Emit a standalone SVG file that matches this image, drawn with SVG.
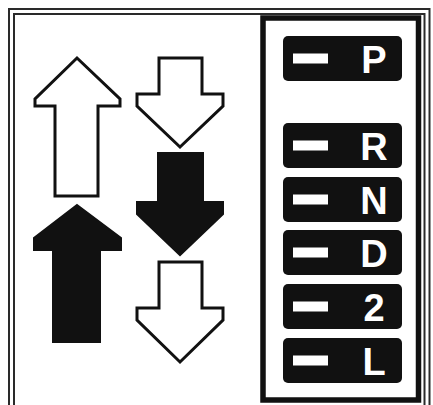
<svg xmlns="http://www.w3.org/2000/svg" width="433" height="405" viewBox="0 0 433 405">
<style>
.frame{fill:none;stroke:#2a2a2a;stroke-width:2}
.box{fill:none;stroke:#111;stroke-width:5.5}
.open{fill:#fff;stroke:#111;stroke-width:3;stroke-linejoin:miter}
.solid{fill:#111;stroke:#111;stroke-width:2}
.lab{fill:#111}
.dash{fill:#fff}
.t{fill:#fff;font-family:"Liberation Sans",Arial,sans-serif;font-weight:bold;font-size:38px;text-anchor:middle}
</style>
<rect width="433" height="405" fill="#fff"/>
<g id="frame">
<rect class="frame" x="9" y="9" width="420.5" height="410"/>
<rect class="frame" x="14" y="14" width="410.5" height="400"/>
</g>
<g id="arrows">
<g id="up-open"><polygon class="open" points="77,58 120,99 120,106 98,106 98,196 55,196 55,106 35,106 35,99"/></g>
<g id="up-solid"><polygon class="solid" points="77,205 121,238 121,250 100,250 100,342 53,342 53,250 34,250 34,238"/></g>
<g id="down-open-1"><polygon class="open" points="159,58 202,58 202,94 223,94 223,106 180,147 137,106 137,94 159,94"/></g>
<g id="down-solid"><polygon class="solid" points="158,153 203,153 203,202 223,202 223,214 180,255 137,214 137,202 158,202"/></g>
<g id="down-open-2"><polygon class="open" points="159,262 202,262 202,308 223,308 223,320 180,362 137,320 137,308 159,308"/></g>
</g>
<g id="selector">
<rect class="box" x="263" y="18" width="155.5" height="382"/>
<g id="pos-P"><rect class="lab" x="283" y="36" width="119" height="45" rx="5"/><rect class="dash" x="293" y="53.5" width="35" height="10"/><text class="t" x="374" y="72.5">P</text></g>
<g id="pos-R"><rect class="lab" x="283" y="123" width="119" height="45" rx="5"/><rect class="dash" x="293" y="140.5" width="35" height="10"/><text class="t" x="374" y="159.5">R</text></g>
<g id="pos-N"><rect class="lab" x="283" y="177" width="119" height="45" rx="5"/><rect class="dash" x="293" y="194.5" width="35" height="10"/><text class="t" x="374" y="213.5">N</text></g>
<g id="pos-D"><rect class="lab" x="283" y="230" width="119" height="45" rx="5"/><rect class="dash" x="293" y="247.5" width="35" height="10"/><text class="t" x="374" y="266.5">D</text></g>
<g id="pos-2"><rect class="lab" x="283" y="284" width="119" height="45" rx="5"/><rect class="dash" x="293" y="301.5" width="35" height="10"/><text class="t" x="374" y="320.5">2</text></g>
<g id="pos-L"><rect class="lab" x="283" y="338" width="119" height="45" rx="5"/><rect class="dash" x="293" y="355.5" width="35" height="10"/><text class="t" x="374" y="374.5">L</text></g>
</g>
</svg>
